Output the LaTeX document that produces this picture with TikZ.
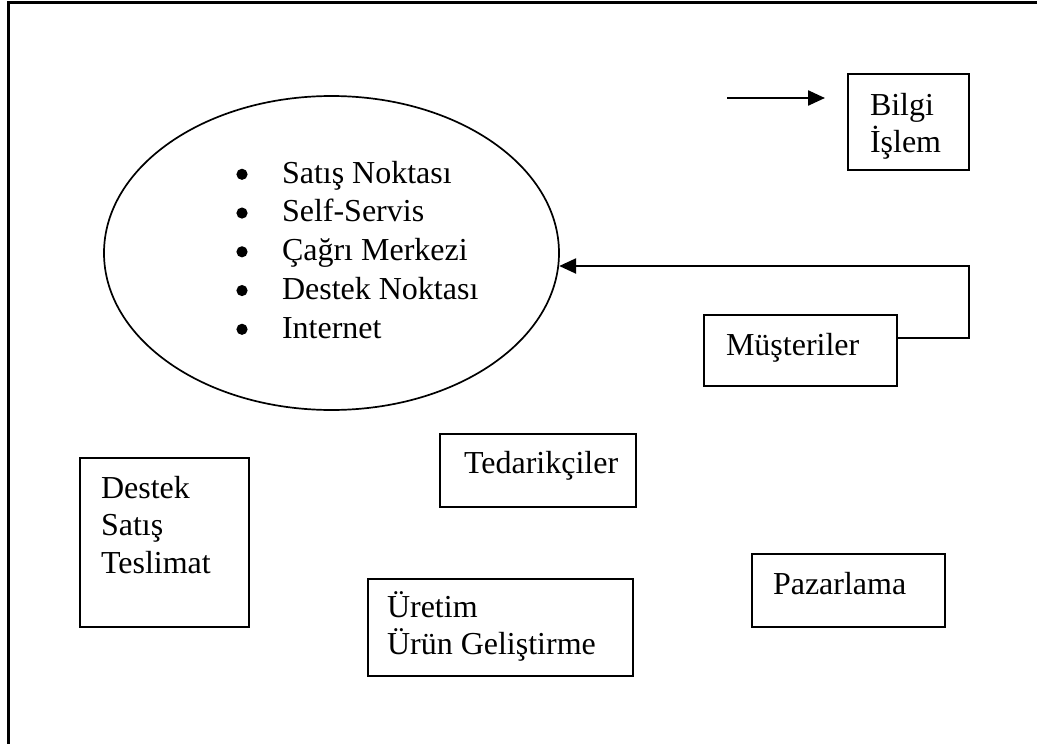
\documentclass[tikz,border=0pt]{standalone}
\usepackage{fontspec}
\setmainfont{Liberation Serif}
\usetikzlibrary{shapes.geometric,arrows.meta}
\begin{document}
\begin{tikzpicture}[x=1pt,y=-1pt,
  box/.style={draw,line width=2.4pt,rectangle,inner sep=0pt,outer sep=0pt},
  lbl/.style={inner sep=0pt,outer sep=0pt,anchor=base west,
    font=\fontsize{32}{37.5}\selectfont},
  flow/.style={line width=2.4pt,-{Triangle[length=17pt,width=15pt]}}]
\useasboundingbox (0,0) rectangle (1037,744);
% page frame (only its left and top sides fall inside)
\draw[line width=2.6pt] (8.5,760) -- (8.5,2.5) -- (1050,2.5);

% channels ellipse
\node[draw,line width=1.7pt,ellipse,minimum width=455pt,minimum height=314pt,inner sep=0pt] (ell) at (331.5,253) {};
\node[lbl,font=\fontsize{32}{38.75}\selectfont] (chan) at (282,183)
  {\vtop{\hbox{Satış Noktası}
         \hbox{Self-Servis}
         \hbox{Çağrı Merkezi}
         \hbox{Destek Noktası}
         \hbox{Internet}}};
% list bullets
\foreach \k in {0,...,4}
  \fill (242,174.3+38.75*\k) circle (5.6pt);

% boxes
\node[box,minimum width=121pt,minimum height=96pt] (bilgi) at (908.5,122) {};
\node[lbl] (bilgiT) at (870,115) {\vtop{\hbox{Bilgi}\hbox{İşlem}}};

\node[box,minimum width=193pt,minimum height=71pt] (mus) at (800.5,350.5) {};
\node[lbl] (musT) at (726,355) {Müşteriler};

\node[box,minimum width=169pt,minimum height=169pt] (destek) at (164.5,542.5) {};
\node[lbl] (destekT) at (101,498) {\vtop{\hbox{Destek}\hbox{Satış}\hbox{Teslimat}}};

\node[box,minimum width=196pt,minimum height=73pt] (ted) at (538,470.5) {};
\node[lbl] (tedT) at (464,473) {Tedarikçiler};

\node[box,minimum width=265pt,minimum height=97pt] (uretim) at (500.5,627.5) {};
\node[lbl] (uretimT) at (387,617) {\vtop{\hbox{Üretim}\hbox{Ürün Geliştirme}}};

\node[box,minimum width=193pt,minimum height=73pt] (paz) at (848.5,590.5) {};
\node[lbl] (pazT) at (773,594) {Pazarlama};

% connectors
\coordinate (a1) at (727,98);
\coordinate (a2) at (825,98);
\draw[flow] (a1) -- (a2);

\coordinate (turn) at (969,266);
\draw[flow] ([yshift=12.5pt]mus.east) -| (turn) -- (ell.-3.3 |- turn);
\end{tikzpicture}
\end{document}
